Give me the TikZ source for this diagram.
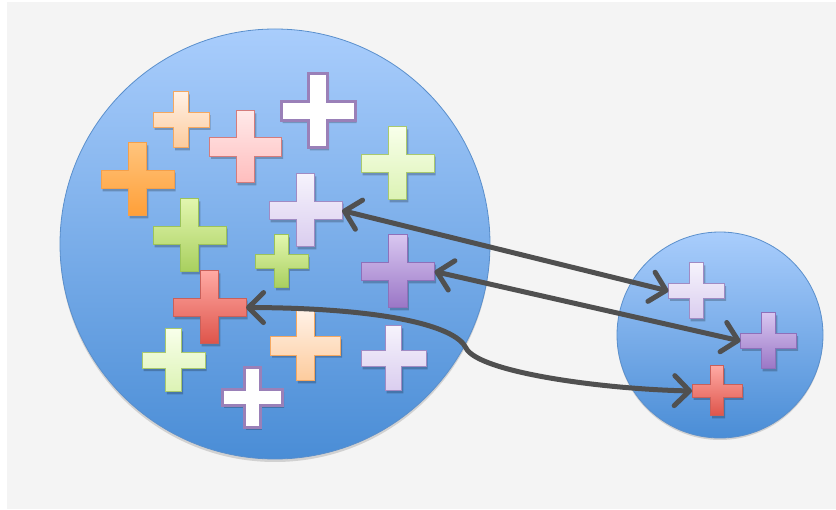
\documentclass[tikz,border=0pt]{standalone}
\usepackage{tikz}
\usetikzlibrary{arrows.meta}

\definecolor{bggray}{HTML}{F4F4F4}
\definecolor{setTop}{HTML}{A9CDFC}
\definecolor{setBot}{HTML}{4A8DD6}
\definecolor{setLine}{HTML}{5A8FCC}
\definecolor{linkgray}{HTML}{505050}

\definecolor{purpTop}{HTML}{D8C6F0}
\definecolor{purpBot}{HTML}{9A76C6}
\definecolor{purpLine}{HTML}{8E70BA}
\definecolor{lavTop}{HTML}{F6F3FC}
\definecolor{lavBot}{HTML}{DACDEF}
\definecolor{lavLine}{HTML}{A08BC4}
\definecolor{whiteLine}{HTML}{9A80B8}
\definecolor{redTop}{HTML}{FFA9A3}
\definecolor{redBot}{HTML}{DE544A}
\definecolor{redLine}{HTML}{C8605A}
\definecolor{pinkTop}{HTML}{FFE9E9}
\definecolor{pinkBot}{HTML}{FFBDBD}
\definecolor{pinkLine}{HTML}{D47C7C}
\definecolor{orTop}{HTML}{FFC47C}
\definecolor{orBot}{HTML}{FF9F38}
\definecolor{orLine}{HTML}{F5A04A}
\definecolor{peachTop}{HTML}{FFF1E6}
\definecolor{peachBot}{HTML}{FDCB9C}
\definecolor{peachLine}{HTML}{F5A860}
\definecolor{grnTop}{HTML}{E2F6AE}
\definecolor{grnBot}{HTML}{A8CF5E}
\definecolor{grnLine}{HTML}{9CC35A}
\definecolor{lgrnTop}{HTML}{F8FFEA}
\definecolor{lgrnBot}{HTML}{DCF3B4}
\definecolor{lgrnLine}{HTML}{A9C96E}

\tikzset{
  setdisc/.style={circle, inner sep=0pt, top color=setTop, bottom color=setBot, draw=setLine, line width=0.8pt},
  plusbox/.style={inner sep=0pt, outer sep=0pt},
  purpplus/.style={top color=purpTop, bottom color=purpBot, draw=purpLine},
  lavplus/.style={top color=lavTop, bottom color=lavBot, draw=lavLine},
  whiteplus/.style={top color=white, bottom color=white, draw=whiteLine, line width=3pt},
  redplus/.style={top color=redTop, bottom color=redBot, draw=redLine},
  pinkplus/.style={top color=pinkTop, bottom color=pinkBot, draw=pinkLine},
  orplus/.style={top color=orTop, bottom color=orBot, draw=orLine},
  peachplus/.style={top color=peachTop, bottom color=peachBot, draw=peachLine},
  grnplus/.style={top color=grnTop, bottom color=grnBot, draw=grnLine},
  lgrnplus/.style={top color=lgrnTop, bottom color=lgrnBot, draw=lgrnLine},
  link/.style={draw=linkgray, line width=5pt, line cap=round, line join=round,
    >={Straight Barb[length=15pt,width=30pt,line cap=round,line join=round]}, <->}
}

% look, name, centre, size
\newcommand{\plusmark}[4]{%
  \node[plusbox, minimum size=#4] (#2) at (#3) {};
  \begin{scope}[shift={(#2.center)}]
    \pgfmathsetmacro\hs{#4/2}\pgfmathsetmacro\aw{#4*0.13}
    \fill[black, opacity=0.22, shift={(1.5,2.5)}]
      (-\aw,-\hs) -- (\aw,-\hs) -- (\aw,-\aw) -- (\hs,-\aw) -- (\hs,\aw) -- (\aw,\aw)
      -- (\aw,\hs) -- (-\aw,\hs) -- (-\aw,\aw) -- (-\hs,\aw) -- (-\hs,-\aw) -- (-\aw,-\aw) -- cycle;
    \shade[line width=1pt, #1]
      (-\aw,-\hs) -- (\aw,-\hs) -- (\aw,-\aw) -- (\hs,-\aw) -- (\hs,\aw) -- (\aw,\aw)
      -- (\aw,\hs) -- (-\aw,\hs) -- (-\aw,\aw) -- (-\hs,\aw) -- (-\hs,-\aw) -- (-\aw,-\aw) -- cycle;
  \end{scope}}

\begin{document}
\begin{tikzpicture}[x=1pt, y=-1pt]

    % background
    \fill[white] (0,0) rectangle (836,510);
    \fill[bggray] (7,2) rectangle (836,509);

    % the two sets
    \fill[black, opacity=0.14] (275,247) circle (215);
    \fill[black, opacity=0.14] (720,337) circle (103);
    \node[setdisc, minimum size=430] (bigset) at (275,244) {};
    \node[setdisc, minimum size=206] (smallset) at (720,335) {};

    % crosses in the big set
    \plusmark{peachplus}{peachA}{181,120}{56}
    \plusmark{pinkplus}{pinkA}{245.5,147}{72}
    \plusmark{whiteplus}{whiteA}{318,111}{74}
    \plusmark{orplus}{orangeA}{137.5,179.5}{73}
    \plusmark{grnplus}{greenA}{189.5,235.5}{73}
    \plusmark{lavplus}{lavA}{305.5,210.5}{73}
    \plusmark{lgrnplus}{lgreenA}{397.5,163.5}{73}
    \plusmark{grnplus}{greenB}{281.5,261.5}{53}
    \plusmark{purpplus}{purpA}{398,271.5}{73}
    \plusmark{redplus}{redA}{209.5,307.5}{73}
    \plusmark{lgrnplus}{lgreenB}{173.5,360.5}{63}
    \plusmark{peachplus}{peachB}{305.5,346}{70}
    \plusmark{lavplus}{lavB}{393.5,358.5}{65}
    \plusmark{whiteplus}{whiteB}{252.5,397.5}{60}

    % crosses in the small set
    \plusmark{lavplus}{lavC}{696.5,291}{56}
    \plusmark{purpplus}{purpC}{768.5,341}{56}
    \plusmark{redplus}{redC}{717,391}{50}

    % links
    \draw[link](lavA.east) -- (lavC.west);
    \draw[link](purpA.east) -- (purpC.west);
    \draw[link](redA.east) .. controls (380,308) and (455,325) .. (466,348)
        .. controls (478,372) and (600,389) .. (redC.west);

\end{tikzpicture}
\end{document}
